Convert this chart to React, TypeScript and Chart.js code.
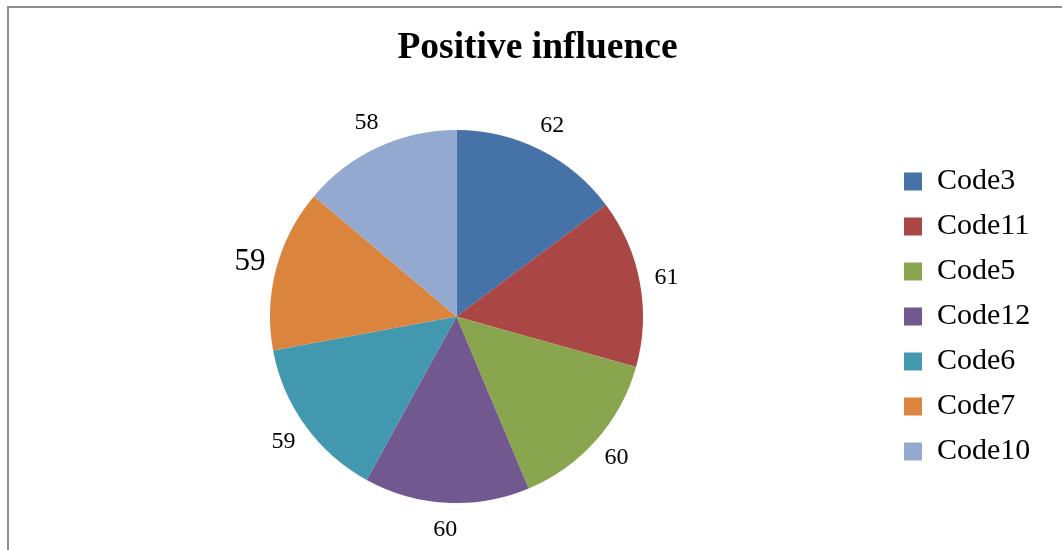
import React, { useEffect, useRef } from "react";
import { Chart, registerables } from "chart.js";

Chart.register(...registerables);

// Chart data
const chartTitle = "Positive influence";
const categories = ["Code3", "Code11", "Code5", "Code12", "Code6", "Code7", "Code10"];
const counts = [62, 61, 60, 60, 59, 59, 58];

// Styling
const sliceColors = ["#4572A7", "#AA4643", "#89A54E", "#71588F", "#4198AF", "#DB843D", "#93A9CF"];
const valueLabelSizes = [24, 24, 24, 24, 24, 31, 24];
const SERIF = '"Liberation Serif", "Times New Roman", Times, serif';
const CANVAS_W = 1075;
const CANVAS_H = 550;

// Title centred across the whole chart frame.
const frameTitle = {
  id: "frameTitle",
  afterDraw(chart: any) {
    const { ctx } = chart;
    ctx.save();
    ctx.fillStyle = "#000";
    ctx.textAlign = "center";
    ctx.textBaseline = "middle";
    ctx.font = `bold 37.5px ${SERIF}`;
    ctx.fillText(chartTitle, chart.width / 2, 48);
    ctx.restore();
  },
};

// Writes each slice's value just outside its outer edge.
const outsideLabels = {
  id: "outsideLabels",
  afterDatasetsDraw(chart: any) {
    const { ctx } = chart;
    const meta = chart.getDatasetMeta(0);
    const values = chart.data.datasets[0].data as number[];
    ctx.save();
    ctx.fillStyle = "#000";
    ctx.textAlign = "center";
    ctx.textBaseline = "middle";
    meta.data.forEach((arc: any, i: number) => {
      const { x, y, startAngle, endAngle, outerRadius } = arc.getProps(
        ["x", "y", "startAngle", "endAngle", "outerRadius"],
        true
      );
      const mid = (startAngle + endAngle) / 2;
      const r = outerRadius + 27;
      ctx.font = `${valueLabelSizes[i]}px ${SERIF}`;
      ctx.fillText(String(values[i]), x + Math.cos(mid) * r, y + Math.sin(mid) * r);
    });
    ctx.restore();
  },
};

export default function App() {
  const canvasRef = useRef<HTMLCanvasElement | null>(null);

  useEffect(() => {
    if (!canvasRef.current) return;
    const chart = new Chart(canvasRef.current, {
      type: "pie",
      data: {
        labels: categories,
        datasets: [
          {
            data: counts,
            backgroundColor: sliceColors,
            borderWidth: 0,
          },
        ],
      },
      options: {
        responsive: false,
        animation: false,
        devicePixelRatio: 1,
        layout: {
          padding: { left: 24, right: 34.7, top: 130, bottom: 47 },
        },
        plugins: {
          title: { display: false },
          legend: {
            position: "right",
            fullSize: false,
            labels: {
              color: "#000",
              font: { family: SERIF, size: 30 },
              boxWidth: 18,
              boxHeight: 18,
              padding: 15,
            },
          },
          tooltip: { enabled: false },
        },
      },
      plugins: [outsideLabels, frameTitle],
    });
    return () => chart.destroy();
  }, []);

  return (
    <div
      style={{
        position: "fixed",
        left: 0,
        top: 0,
        width: 1062,
        height: 550,
        overflow: "hidden",
        background: "#fff",
      }}
    >
      <div
        style={{
          position: "absolute",
          left: 7,
          top: 6,
          width: 2000,
          height: 2000,
          borderLeft: "2px solid #8f8f8f",
          borderTop: "2px solid #8f8f8f",
        }}
      />
      <canvas
        ref={canvasRef}
        width={CANVAS_W}
        height={CANVAS_H}
        style={{ position: "absolute", left: 0, top: 0 }}
      />
    </div>
  );
}
